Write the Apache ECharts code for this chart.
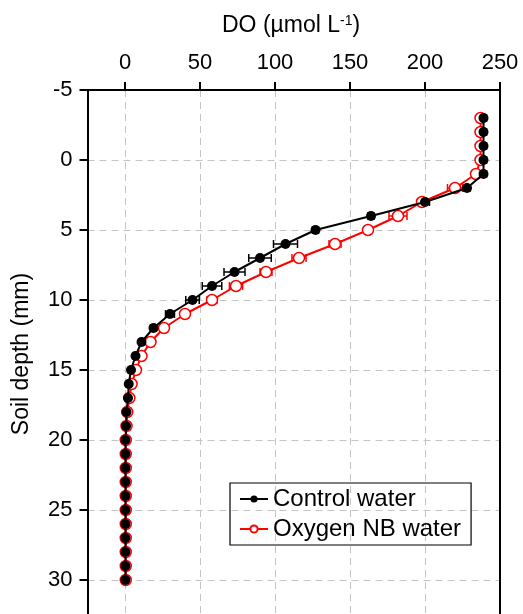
<!DOCTYPE html>
<html><head><meta charset="utf-8">
<script src="https://cdn.jsdelivr.net/npm/echarts@6/dist/echarts.min.js"></script>
<style>html,body{margin:0;padding:0;background:#fff}#c{width:523px;height:614px}</style>
</head><body><div id="c"></div>
<script>
var depths = [-3,-2,-1,0,1,2,3,4,5,6,7,8,9,10,11,12,13,14,15,16,17,18,19,20,21,22,23,24,25,26,27,28,29,30];
var controlDO = [239,239,239,239,239,228,200,164,127,107,90,73,58,45,30,19,11,7,4,2.5,2,1,0.7,0.3,0.3,0.3,0.3,0.3,0.3,0.3,0.3,0.3,0.3,0.3];
var controlErr = [2,2,2,2,2,2,3,2,2,8,7.5,7,6.5,4.5,3,2,1.5,1,1,1,1,1,1,1,1,1,1,1,1,1,1,1,1,1];
var nbDO = [237,237,237,237,234,220,198,182,162,140,116,94,74,58,40,26,17,11,7.3,4.4,2.9,1.5,1,0.5,0.5,0.5,0.5,0.5,0.5,0.5,0.5,0.5,0.5,0.5];
var nbErr = [2,2,2,2,2,5,3,6,2,4,4.7,4,4.4,3.3,2,1.5,1,1,1,1,1,1,1,1,1,1,1,1,1,1,1,1,1,1];
var xTicks = [0,50,100,150,200,250];
var seriesNames = ['Control water','Oxygen NB water'];

var chart = echarts.init(document.getElementById('c'), null, {renderer:'canvas'});
function pairs(xs){ return depths.map(function(d,i){ return [xs[i], d]; }); }
function errData(xs, es){ return depths.map(function(d,i){ return [xs[i], d, es[i]]; }); }
function errRender(color){
  return function(params, api){
    var x = api.value(0), y = api.value(1), e = api.value(2);
    var p1 = api.coord([x - e, y]), p2 = api.coord([x + e, y]);
    var h = 4;
    return {type:'group', children:[
      {type:'line', shape:{x1:p1[0],y1:p1[1],x2:p2[0],y2:p2[1]}, style:{stroke:color, lineWidth:1.5}},
      {type:'line', shape:{x1:p1[0],y1:p1[1]-h,x2:p1[0],y2:p1[1]+h}, style:{stroke:color, lineWidth:1.5}},
      {type:'line', shape:{x1:p2[0],y1:p2[1]-h,x2:p2[0],y2:p2[1]+h}, style:{stroke:color, lineWidth:1.5}}
    ]};
  };
}
var font = 'Liberation Sans, Arial, sans-serif';
var dash = {color:'#c4c4c4', width:1, type:[7,5]};
chart.setOption({
  animation:false,
  textStyle:{fontFamily:font},
  grid:{left:87.5, top:90, width:412.5, height:560, containLabel:false, outerBoundsMode:'none'},
  xAxis:{type:'value', position:'top', min:-25, max:250,
    axisLine:{show:true, onZero:false, lineStyle:{color:'#000', width:2}},
    axisTick:{show:true, inside:false, length:8, lineStyle:{color:'#000', width:2}, customValues:xTicks},
    axisLabel:{color:'#000', fontSize:22, margin:16, fontFamily:font, customValues:xTicks},
    splitLine:{show:true, lineStyle:dash}
  },
  yAxis:[{type:'value', inverse:true, min:-5, max:35, interval:5, position:'left',
    axisLine:{show:true, onZero:false, lineStyle:{color:'#000', width:2}},
    axisTick:{show:true, inside:false, length:8, lineStyle:{color:'#000', width:2}},
    axisLabel:{color:'#000', fontSize:22, margin:15, fontFamily:font},
    splitLine:{show:true, lineStyle:dash}
  },{type:'value', inverse:true, min:-5, max:35, interval:5, position:'right',
    axisLine:{show:true, onZero:false, lineStyle:{color:'#000', width:2}},
    axisTick:{show:false}, axisLabel:{show:false}, splitLine:{show:false}
  }],
  legend:{orient:'vertical', left:230, top:483, padding:[3,10,3,9], itemGap:4,
    itemWidth:28, itemHeight:9, borderColor:'#000', borderWidth:1.2, borderRadius:0,
    textStyle:{fontSize:24, color:'#000', fontFamily:font, lineHeight:26},
    data:seriesNames},
  graphic:[
    {type:'text', left:222, top:14, style:{text:'DO (µmol L{s|-1})', font:'23px '+font, fill:'#000',
      rich:{s:{fontSize:14, verticalAlign:'top', padding:[0,0,10,0], fill:'#000', fontFamily:font}}}},
    {type:'text', x:22, y:354, rotation:Math.PI/2, style:{text:'Soil depth (mm)', font:'23px '+font, fill:'#000', align:'center', verticalAlign:'middle'}}
  ],
  series:[
    {type:'custom', name:'errC', renderItem:errRender('#000'), data:errData(controlDO, controlErr), z:1, silent:true},
    {type:'custom', name:'errN', renderItem:errRender('#ff0000'), data:errData(nbDO, nbErr), z:1, silent:true},
    {type:'line', name:seriesNames[1], data:pairs(nbDO), z:2, symbol:'circle', symbolSize:11,
      lineStyle:{color:'#ff0000', width:2}, itemStyle:{color:'#fff', borderColor:'#ff0000', borderWidth:1.5}},
    {type:'line', name:seriesNames[0], data:pairs(controlDO), z:3, symbol:'circle', symbolSize:10,
      lineStyle:{color:'#000', width:2}, itemStyle:{color:'#000', borderColor:'#000', borderWidth:0}}
  ]
});
</script></body></html>
